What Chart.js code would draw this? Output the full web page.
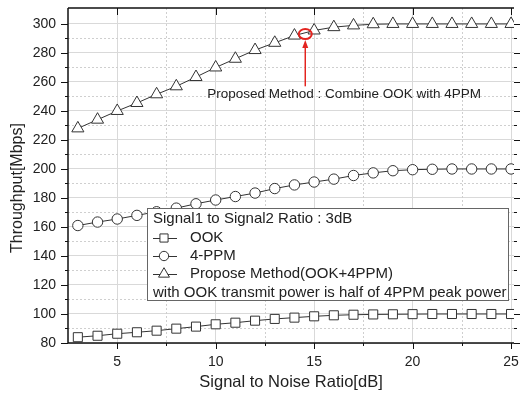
<!DOCTYPE html>
<html>
<head>
<meta charset="utf-8">
<script src="https://cdn.jsdelivr.net/npm/chart.js@4"></script>
<style>
  html, body { margin: 0; padding: 0; background: #fff; }
  #wrap { width: 522px; height: 396px; }
</style>
</head>
<body>
<div id="wrap"><canvas id="snrChart" width="522" height="396"></canvas></div>
<script>
// SNR values on the x axis (dB)
var snr = [3, 4, 5, 6, 7, 8, 9, 10, 11, 12, 13, 14, 15, 16, 17, 18, 19, 20, 21, 22, 23, 24, 25];

// throughput (Mbps)
var ook = [84, 85, 86.4, 87.4, 88.5, 89.9, 91.3, 92.9, 94, 95.4, 96.6, 97.5, 98.4, 99.1, 99.5, 99.7, 99.8, 99.9, 100, 100, 100, 100, 100];
var ppm4 = [161, 163.4, 165.5, 168, 170.5, 173, 176, 178.6, 181, 183.4, 186.5, 189, 191, 193, 195.5, 197.3, 198.8, 199.5, 199.8, 200, 200, 200, 200];
var proposed = [228, 234, 240, 245.5, 251.5, 257, 263.4, 270, 276, 282, 287, 292, 295.5, 297.8, 299, 299.8, 300, 300, 300, 300, 300, 300, 300];

// axis ticks
var xTicks = [5, 10, 15, 20, 25];
var xMinor = [7.5, 12.5, 17.5, 22.5];
var yTicks = [80, 100, 120, 140, 160, 180, 200, 220, 240, 260, 280, 300];
var yMinor = [90, 110, 130, 150, 170, 190, 210, 230, 250, 270, 290];

// red callout (data coords)
var callout = { x: 14.55, y: 293, tailY: 257, tipY: 289, textX: 9.57, textY: 251.7 };
var calloutText = "Proposed Method : Combine OOK with 4PPM";

var legendTitle = "Signal1 to Signal2 Ratio : 3dB";
var legendFooter = "with OOK transmit power is half of 4PPM peak power";
var yTitle = "Throughput[Mbps]";

var FONT = "'Liberation Sans', Arial, sans-serif";
var INK = "#333";

function toPts(ys) {
	return snr.map(function (x, i) { return { x: x, y: ys[i] }; });
}

// draw a marker the same way for plot and legend
function marker(ctx, style, r, x, y) {
	ctx.save();
	ctx.fillStyle = "#fff";
	ctx.strokeStyle = INK;
	ctx.lineWidth = 1;
	ctx.beginPath();
	if (style === "rect") {
		var s = Math.SQRT1_2 * r;
		ctx.rect(x - s, y - s, 2 * s, 2 * s);
	} else if (style === "circle") {
		ctx.arc(x, y, r, 0, Math.PI * 2);
	} else {
		ctx.moveTo(x, y - r);
		ctx.lineTo(x + Math.sin(Math.PI / 3) * r, y + r / 2);
		ctx.lineTo(x - Math.sin(Math.PI / 3) * r, y + r / 2);
		ctx.closePath();
	}
	ctx.fill();
	ctx.stroke();
	ctx.restore();
}

var decor = {
	id: "decor",
	beforeDatasetsDraw: function (chart) {
		var ctx = chart.ctx, ca = chart.chartArea;
		var xs = chart.scales.x, ys = chart.scales.y;
		ctx.save();
		ctx.strokeStyle = "#cfcfcf";
		ctx.lineWidth = 1;
		ctx.setLineDash([2, 2]);
		xMinor.forEach(function (v) {
			var px = Math.round(xs.getPixelForValue(v)) + 0.5;
			ctx.beginPath(); ctx.moveTo(px, ca.top); ctx.lineTo(px, ca.bottom); ctx.stroke();
		});
		yMinor.forEach(function (v) {
			var py = Math.round(ys.getPixelForValue(v)) + 0.5;
			ctx.beginPath(); ctx.moveTo(ca.left, py); ctx.lineTo(ca.right, py); ctx.stroke();
		});
		ctx.restore();
	},
	afterDatasetsDraw: function (chart) {
		var ctx = chart.ctx, ca = chart.chartArea;
		var xs = chart.scales.x, ys = chart.scales.y;
		ctx.save();

		// axes frame and tick marks
		ctx.strokeStyle = "#111";
		ctx.lineWidth = 1.5;
		ctx.beginPath();
		ctx.moveTo(ca.left, ca.top); ctx.lineTo(ca.right, ca.top);
		ctx.moveTo(ca.left, ca.top); ctx.lineTo(ca.left, ca.bottom); ctx.lineTo(ca.right, ca.bottom);
		ctx.stroke();
		ctx.lineWidth = 1;
		ctx.beginPath();
		xTicks.forEach(function (v) {
			var px = Math.round(xs.getPixelForValue(v)) + 0.5;
			ctx.moveTo(px, ca.bottom); ctx.lineTo(px, ca.bottom + 6);
			ctx.moveTo(px, ca.top); ctx.lineTo(px, ca.top + 7);
		});
		xMinor.forEach(function (v) {
			var px = Math.round(xs.getPixelForValue(v)) + 0.5;
			ctx.moveTo(px, ca.bottom); ctx.lineTo(px, ca.bottom + 3);
		});
		yTicks.forEach(function (v) {
			var py = Math.round(ys.getPixelForValue(v)) + 0.5;
			ctx.moveTo(ca.left, py); ctx.lineTo(ca.left - 7, py);
			ctx.moveTo(ca.right, py); ctx.lineTo(ca.right + 6, py);
		});
		yMinor.forEach(function (v) {
			var py = Math.round(ys.getPixelForValue(v)) + 0.5;
			ctx.moveTo(ca.left, py); ctx.lineTo(ca.left - 3, py);
			ctx.moveTo(ca.right, py); ctx.lineTo(ca.right + 3, py);
		});
		ctx.stroke();

		// y axis title, sits a bit below the middle in the original
		ctx.save();
		ctx.translate(ca.left - 50, ca.top + 180);
		ctx.rotate(-Math.PI / 2);
		ctx.fillStyle = "#222";
		ctx.font = "16px " + FONT;
		ctx.textAlign = "center";
		ctx.textBaseline = "middle";
		ctx.fillText(yTitle, 0, 0);
		ctx.restore();

		// red callout
		var cx = xs.getPixelForValue(callout.x), cy = ys.getPixelForValue(callout.y);
		ctx.strokeStyle = "#e3241f";
		ctx.fillStyle = "#e3241f";
		ctx.lineWidth = 2;
		ctx.beginPath();
		ctx.ellipse(cx, cy, 6.5, 5, 0, 0, Math.PI * 2);
		ctx.stroke();
		var tail = ys.getPixelForValue(callout.tailY), tip = ys.getPixelForValue(callout.tipY);
		ctx.lineWidth = 1.5;
		ctx.beginPath(); ctx.moveTo(cx, tail); ctx.lineTo(cx, tip + 6); ctx.stroke();
		ctx.beginPath();
		ctx.moveTo(cx, tip); ctx.lineTo(cx - 3, tip + 8); ctx.lineTo(cx + 3, tip + 8); ctx.closePath();
		ctx.fill();
		ctx.fillStyle = "#222";
		ctx.font = "13.5px " + FONT;
		ctx.textBaseline = "middle";
		ctx.textAlign = "left";
		ctx.fillText(calloutText, xs.getPixelForValue(callout.textX), ys.getPixelForValue(callout.textY));

		// legend box
		var lx = ca.left + 79, ly = ca.top + 200, lw = 361, lh = 92;
		ctx.fillStyle = "#fff";
		ctx.fillRect(lx, ly, lw, lh);
		ctx.strokeStyle = "#666";
		ctx.lineWidth = 1;
		ctx.strokeRect(lx + 0.5, ly + 0.5, lw, lh);
		ctx.font = "15px " + FONT;
		ctx.fillStyle = "#222";
		ctx.fillText(legendTitle, lx + 6, ly + 11);
		chart.data.datasets.forEach(function (ds, i) {
			var yy = ly + 30 + i * 18;
			ctx.strokeStyle = INK;
			ctx.beginPath(); ctx.moveTo(lx + 6, yy + 0.5); ctx.lineTo(lx + 30, yy + 0.5); ctx.stroke();
			marker(ctx, ds.pointStyle, ds.pointRadius * 0.9, lx + 17, yy);
			ctx.fillStyle = "#222";
			ctx.fillText(ds.label, lx + 43, yy);
		});
		ctx.fillText(legendFooter, lx + 6, ly + 85);
		ctx.restore();
	}
};

var ctx = document.getElementById("snrChart").getContext("2d");

var chart = new Chart(ctx, {
	type: "scatter",
	data: {
		datasets: [
			{ label: "OOK", data: toPts(ook), pointStyle: "rect", pointRadius: 6.4 },
			{ label: "4-PPM", data: toPts(ppm4), pointStyle: "circle", pointRadius: 5.2 },
			{ label: "Propose Method(OOK+4PPM)", data: toPts(proposed), pointStyle: "triangle", pointRadius: 7 },
		].map(function (d) {
			d.showLine = true;
			d.borderColor = INK;
			d.borderWidth = 1;
			d.backgroundColor = "#fff";
			d.pointBorderColor = INK;
			d.pointBackgroundColor = "#fff";
			d.pointBorderWidth = 1;
			d.pointHoverRadius = d.pointRadius;
			return d;
		}),
	},
	options: {
		responsive: false,
		animation: false,
		events: [],
		layout: { padding: { left: 0, right: 6, top: 7, bottom: 0 } },
		plugins: { legend: { display: false }, tooltip: { enabled: false } },
		scales: {
			x: {
				type: "linear",
				min: 2.5,
				max: 25.15,
				afterBuildTicks: function (s) { s.ticks = xTicks.map(function (v) { return { value: v }; }); },
				afterFit: function (s) { s.height = 53; s.paddingLeft = 0; s.paddingRight = 0; },
				grid: { color: "#d9d9d9", lineWidth: 1, drawTicks: false },
				border: { display: false },
				ticks: { font: { family: FONT, size: 14 }, color: "#222", padding: 11, maxRotation: 0 },
				title: { display: true, text: "Signal to Noise Ratio[dB]", font: { family: FONT, size: 16.5 }, color: "#222", padding: { top: 6 } },
			},
			y: {
				min: 80,
				max: 311,
				afterBuildTicks: function (s) { s.ticks = yTicks.map(function (v) { return { value: v }; }); },
				afterFit: function (s) { s.width = 68; s.paddingTop = 0; s.paddingBottom = 0; },
				grid: { color: "#d9d9d9", lineWidth: 1, drawTicks: false },
				border: { display: false },
				ticks: { font: { family: FONT, size: 14 }, color: "#222", padding: 12 },
			},
		},
	},
	plugins: [decor],
});
</script>
</body>
</html>
